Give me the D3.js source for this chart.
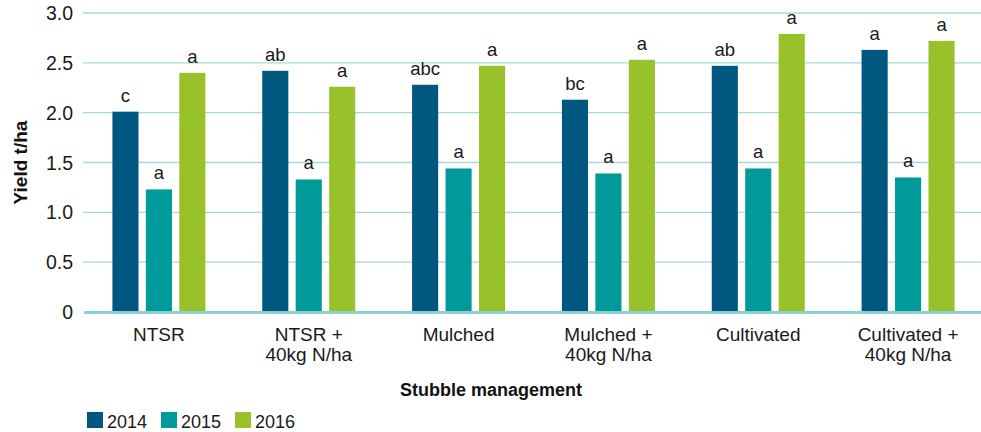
<!DOCTYPE html>
<html>
<head>
<meta charset="utf-8">
<script src="https://cdn.jsdelivr.net/npm/d3@7"></script>
<style>
  body { margin: 0; background: #fff; }
  svg { font-family: "Liberation Sans", Arial, sans-serif; }
</style>
</head>
<body>
<div id="chart"></div>
<script>
// chart data
var categories = [["NTSR"], ["NTSR +", "40kg N/ha"], ["Mulched"],
                  ["Mulched +", "40kg N/ha"], ["Cultivated"], ["Cultivated +", "40kg N/ha"]];
var years = ["2014", "2015", "2016"];
var y2014 = [2.01, 2.42, 2.28, 2.13, 2.47, 2.63];
var y2015 = [1.23, 1.33, 1.44, 1.39, 1.44, 1.35];
var y2016 = [2.40, 2.26, 2.47, 2.53, 2.79, 2.72];
var l2014 = ["c", "ab", "abc", "bc", "ab", "a"];
var l2015 = ["a", "a", "a", "a", "a", "a"];
var l2016 = ["a", "a", "a", "a", "a", "a"];
var yTicks = [0, 0.5, 1.0, 1.5, 2.0, 2.5, 3.0];

var colors = ["#00577f", "#009a9a", "#98c12a"];
var series = [y2014, y2015, y2016];
var letters = [l2014, l2015, l2016];

var width = 981, height = 432;
var margin = {left: 84, top: 13, right: -2, bottom: 120};

var svg = d3.select("#chart").append("svg")
    .attr("width", width)
    .attr("height", height);

var x0 = d3.scaleBand()
    .domain(d3.range(categories.length))
    .range([margin.left, width - margin.right])
    .paddingInner(0).paddingOuter(0);

var x1 = d3.scaleBand()
    .domain(d3.range(years.length))
    .range([0, 93])
    .paddingInner(0.22);

var y = d3.scaleLinear()
    .domain([0, 3])
    .range([height - margin.bottom, margin.top]);

// gridlines
svg.append("g").selectAll("line")
    .data(yTicks.filter(function(t) { return t > 0; }))
    .enter().append("line")
    .attr("x1", margin.left - 1).attr("x2", width)
    .attr("y1", function(t) { return y(t); })
    .attr("y2", function(t) { return y(t); })
    .attr("stroke", "#a9d8da")
    .attr("stroke-width", 1.3);

// y tick labels
svg.append("g").selectAll("text")
    .data(yTicks)
    .enter().append("text")
    .attr("x", 73)
    .attr("y", function(t) { return y(t) + 7; })
    .attr("text-anchor", "end")
    .attr("font-size", 19.5)
    .attr("fill", "#1a1a1a")
    .text(function(t) { return t === 0 ? "0" : t.toFixed(1); });

// bars
var groups = svg.append("g").selectAll("g")
    .data(categories)
    .enter().append("g")
    .attr("transform", function(d, i) {
        return "translate(" + (x0(i) + (x0.bandwidth() - 93) / 2) + ",0)";
    });

groups.selectAll("rect")
    .data(function(d, i) { return series.map(function(s, k) { return {k: k, v: s[i], lab: letters[k][i]}; }); })
    .enter().append("rect")
    .attr("x", function(d) { return x1(d.k); })
    .attr("width", x1.bandwidth())
    .attr("y", function(d) { return y(d.v); })
    .attr("height", function(d) { return y(0) - y(d.v); })
    .attr("fill", function(d) { return colors[d.k]; });

groups.selectAll("text.lab")
    .data(function(d, i) { return series.map(function(s, k) { return {k: k, v: s[i], lab: letters[k][i]}; }); })
    .enter().append("text")
    .attr("class", "lab")
    .attr("x", function(d) { return x1(d.k) + x1.bandwidth() / 2; })
    .attr("y", function(d) { return y(d.v) - 10; })
    .attr("text-anchor", "middle")
    .attr("font-size", 18.5)
    .attr("fill", "#1a1a1a")
    .text(function(d) { return d.lab; });

// baseline
svg.append("line")
    .attr("x1", margin.left).attr("x2", width)
    .attr("y1", y(0) + 0.5).attr("y2", y(0) + 0.5)
    .attr("stroke", "#8ccfd2")
    .attr("stroke-width", 3);

// category labels
var cat = svg.append("g").selectAll("text")
    .data(categories)
    .enter().append("text")
    .attr("x", function(d, i) { return x0(i) + x0.bandwidth() / 2; })
    .attr("y", 341)
    .attr("text-anchor", "middle")
    .attr("font-size", 19)
    .attr("fill", "#1a1a1a");
cat.selectAll("tspan")
    .data(function(d) { return d; })
    .enter().append("tspan")
    .attr("x", function() { return d3.select(this.parentNode).attr("x"); })
    .attr("dy", function(d, j) { return j === 0 ? 0 : 20; })
    .text(function(d) { return d; });

// axis titles
svg.append("text")
    .attr("x", 491).attr("y", 396)
    .attr("text-anchor", "middle")
    .attr("font-size", 18)
    .attr("font-weight", "bold")
    .attr("fill", "#111")
    .text("Stubble management");

svg.append("text")
    .attr("transform", "translate(27," + y(1.5) + ") rotate(-90)")
    .attr("text-anchor", "middle")
    .attr("font-size", 19)
    .attr("font-weight", "bold")
    .attr("fill", "#111")
    .text("Yield t/ha");

// legend
var legend = svg.append("g").selectAll("g")
    .data(years)
    .enter().append("g")
    .attr("transform", function(d, i) { return "translate(" + (87 + i * 74) + ",412)"; });
legend.append("rect")
    .attr("width", 16).attr("height", 16)
    .attr("fill", function(d, i) { return colors[i]; });
legend.append("text")
    .attr("x", 20).attr("y", 16)
    .attr("font-size", 18)
    .attr("fill", "#1a1a1a")
    .text(function(d) { return d; });
</script>
</body>
</html>
